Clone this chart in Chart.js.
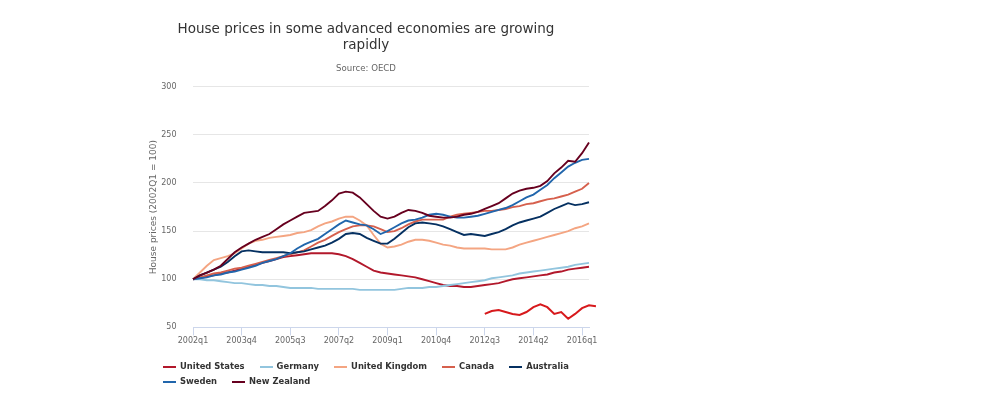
<!DOCTYPE html>
<html>
<head>
<meta charset="utf-8">
<script src="https://cdn.jsdelivr.net/npm/chart.js@4.4.1/dist/chart.umd.min.js"></script>
<style>
  html, body { margin: 0; padding: 0; background: #ffffff; }
  #wrap { position: relative; width: 1000px; height: 400px; }
  #legend { position: absolute; left: 163px; top: 359px; width: 425px; display: flex; flex-wrap: wrap;
            font-family: "DejaVu Sans", sans-serif; font-weight: bold; font-size: 8.4px; color: #333333; line-height: 15px; }
  .item { display: inline-flex; align-items: center; margin-right: 15px; white-space: nowrap; }
  .sym { display: inline-block; width: 13px; height: 2px; margin-right: 4px; }
</style>
</head>
<body>
<div id="wrap">
  <canvas id="c" width="1000" height="400"></canvas>
  <div id="legend"></div>
</div>
<script>
const quarters = [
  '2002q1','2002q2','2002q3','2002q4','2003q1','2003q2','2003q3','2003q4',
  '2004q1','2004q2','2004q3','2004q4','2005q1','2005q2','2005q3','2005q4',
  '2006q1','2006q2','2006q3','2006q4','2007q1','2007q2','2007q3','2007q4',
  '2008q1','2008q2','2008q3','2008q4','2009q1','2009q2','2009q3','2009q4',
  '2010q1','2010q2','2010q3','2010q4','2011q1','2011q2','2011q3','2011q4',
  '2012q1','2012q2','2012q3','2012q4','2013q1','2013q2','2013q3','2013q4',
  '2014q1','2014q2','2014q3','2014q4','2015q1','2015q2','2015q3','2015q4',
  '2016q1','2016q2','2016q3'
];

const unitedStates = [100,101,103,104,106,107,109,111,113,115, 117,119,121,123,124,125,126,127,127,127,
  127,126,124,121,117,113,109,107,106,105, 104,103,102,100,98,96,94,93,93,92,
  92,93,94,95,96,98,100,101,102,103, 104,105,107,108,110,111,112,113];
const germany = [100,100,99,99,98,97,96,96,95,94, 94,93,93,92,91,91,91,91,90,90,
  90,90,90,90,89,89,89,89,89,89, 90,91,91,91,92,92,93,94,95,96,
  97,98,99,101,102,103,104,106,107,108, 109,110,111,112,113,115,116,117];
const unitedKingdom = [100,107,114,120,122,124,127,132,137,140, 141,143,144,145,146,148,149,151,155,158,
  160,163,165,165,161,156,146,137,133,134, 136,139,141,141,140,138,136,135,133,132,
  132,132,132,131,131,131,133,136,138,140, 142,144,146,148,150,153,155,158];
const canada = [100,102,104,106,107,109,111,112,114,116, 118,120,122,124,126,128,130,134,138,141,
  145,149,152,155,156,156,155,152,149,150, 153,157,160,162,162,162,162,165,167,168,
  169,170,171,171,172,173,175,176,178,179, 181,183,184,186,188,191,194,200];
const australia = [100,104,107,110,113,118,124,129,130,129, 128,128,128,128,127,128,129,131,133,135,
  138,142,147,148,147,143,140,137,137,142, 148,154,158,159,158,157,155,152,149,146,
  147,146,145,147,149,152,156,159,161,163, 165,169,173,176,179,177,178,180];
const sweden = [100,101,102,104,105,107,108,110,112,114, 117,119,121,124,127,132,136,139,142,147,
  152,157,161,159,157,156,152,147,150,154, 158,161,162,164,167,168,167,165,164,164,
  165,166,168,170,172,174,177,181,185,188, 193,198,205,211,217,221,224,225];
const newZealand = [100,104,107,110,114,121,128,133,137,141, 144,147,152,157,161,165,169,170,171,176,
  182,189,191,190,185,178,171,165,163,165, 169,172,171,169,166,165,164,164,165,167,
  168,170,173,176,179,184,189,192,194,195, 197,202,210,216,223,222,231,242];
const unlabelledRed = [null,null,null,null,null,null,null,null,null,null, null,null,null,null,null,null,null,null,null,null,
  null,null,null,null,null,null,null,null,null,null, null,null,null,null,null,null,null,null,null,null,
  null,null,64,67,68,66,64,63,66,71, 74,71,64,66,59,64,70,73,72];

const yTicks = [50, 100, 150, 200, 250, 300];

const seriesNames = ['United States','Germany','United Kingdom','Canada','Australia','Sweden','New Zealand'];
const seriesData = [unitedStates, germany, unitedKingdom, canada, australia, sweden, newZealand];
const seriesColors = ['#b2182b','#92c5de','#f4a582','#d6604d','#053061','#2166ac','#67001f'];

Chart.defaults.font.family = '"DejaVu Sans", sans-serif';
Chart.defaults.color = '#666666';

const datasets = seriesNames.map((name, k) => ({
  label: name,
  data: seriesData[k],
  borderColor: seriesColors[k],
  backgroundColor: seriesColors[k],
  borderWidth: 1.9,
  pointRadius: 0,
  tension: 0,
  fill: false,
  order: 10 - k
}));
datasets.push({
  label: '',
  data: unlabelledRed,
  borderColor: '#d7191c',
  backgroundColor: '#d7191c',
  borderWidth: 2,
  pointRadius: 0,
  tension: 0,
  fill: false,
  clip: false,
  order: 1
});

new Chart(document.getElementById('c'), {
  type: 'line',
  data: { labels: quarters, datasets },
  options: {
    responsive: false,
    animation: false,
    layout: { padding: { left: 143, right: 411, top: 0, bottom: 53 } },
    plugins: {
      legend: { display: false },
      tooltip: { enabled: false },
      title: {
        display: true,
        text: ['House prices in some advanced economies are growing', 'rapidly'],
        color: '#333333',
        font: { size: 13.5, weight: 'normal', lineHeight: 1.2 },
        padding: { top: 21, bottom: 10 }
      },
      subtitle: {
        display: true,
        text: 'Source: OECD',
        color: '#666666',
        font: { size: 8.6, weight: 'normal', lineHeight: 1.2 },
        padding: { top: 0, bottom: 13 }
      }
    },
    scales: {
      x: {
        type: 'category',
        afterDataLimits: s => { s.max = 57; },
        afterBuildTicks: s => { s.ticks = s.ticks.filter(t => t.value % 7 === 0); },
        grid: { drawOnChartArea: false, drawTicks: true, tickLength: 8, color: '#ccd6eb', lineWidth: 1 },
        border: { display: true, color: '#ccd6eb', width: 1 },
        ticks: { autoSkip: false, maxRotation: 0, minRotation: 0, padding: 1, color: '#666666', font: { size: 8 } }
      },
      y: {
        min: 50,
        max: 300,
        afterBuildTicks: s => { s.ticks = yTicks.map(v => ({ value: v })); },
        afterFit: s => { s.width = 50; },
        grid: { color: '#e6e6e6', lineWidth: 1, drawTicks: false },
        border: { display: false },
        ticks: { padding: 16.5, color: '#666666', font: { size: 8 } },
        title: {
          display: true,
          text: 'House prices (2002Q1 = 100)',
          color: '#666666',
          font: { size: 9, weight: 'normal', lineHeight: 1.2 },
          padding: { top: 5.6, bottom: 0 }
        }
      }
    }
  }
});

const legend = document.getElementById('legend');
seriesNames.forEach((name, k) => {
  const item = document.createElement('span');
  item.className = 'item';
  const sym = document.createElement('span');
  sym.className = 'sym';
  sym.style.background = seriesColors[k];
  item.appendChild(sym);
  item.appendChild(document.createTextNode(name));
  legend.appendChild(item);
});
</script>
</body>
</html>
